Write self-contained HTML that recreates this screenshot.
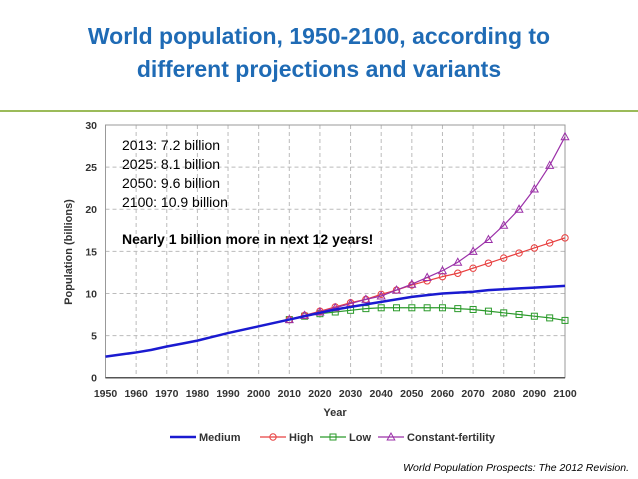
<!DOCTYPE html>
<html><head><meta charset="utf-8"><style>
body{margin:0;width:638px;height:479px;background:#fff;overflow:hidden;font-family:"Liberation Sans",sans-serif}
.t{position:absolute;left:0;width:638px;text-align:center;color:#1f6bb5;font-weight:bold;font-size:23px;line-height:33px}
</style></head><body>
<div class="t" style="top:20px">World population, 1950-2100, according to<br>different projections and variants</div>
<div style="position:absolute;left:0;top:110px;width:638px;height:2px;background:#9bbb59"></div>
<svg id="c" width="638" height="479" style="position:absolute;left:0;top:0"></svg>
<script>
const years=[1950,1955,1960,1965,1970,1975,1980,1985,1990,1995,2000,2005,2010,2015,2020,2025,2030,2035,2040,2045,2050,2055,2060,2065,2070,2075,2080,2085,2090,2095,2100];
const medium=[2.5,2.75,3.0,3.3,3.7,4.05,4.4,4.85,5.3,5.7,6.1,6.5,6.9,7.3,7.7,8.1,8.4,8.7,9.0,9.3,9.6,9.8,10.0,10.1,10.2,10.4,10.5,10.6,10.7,10.8,10.9];
const projYears=[2010,2015,2020,2025,2030,2035,2040,2045,2050,2055,2060,2065,2070,2075,2080,2085,2090,2095,2100];
const high=[6.9,7.4,7.9,8.4,8.9,9.3,9.9,10.4,11.0,11.5,12.0,12.4,13.0,13.6,14.2,14.8,15.4,16.0,16.6];
const low=[6.9,7.3,7.6,7.8,8.0,8.2,8.3,8.3,8.3,8.3,8.3,8.2,8.1,7.9,7.7,7.5,7.3,7.1,6.8];
const constant=[6.9,7.4,7.8,8.3,8.8,9.3,9.7,10.4,11.1,11.9,12.7,13.7,15.0,16.4,18.1,20.0,22.4,25.2,28.6];
const xTicks=[1950,1960,1970,1980,1990,2000,2010,2020,2030,2040,2050,2060,2070,2080,2090,2100];
const yTicks=[0,5,10,15,20,25,30];
const svg=document.getElementById('c'),NS='http://www.w3.org/2000/svg';
const X=v=>105.5+(v-1950)*(565-105.5)/150, Y=v=>377.7-v*(377.7-125)/30;
function el(t,a,txt){const e=document.createElementNS(NS,t);for(const k in a)e.setAttribute(k,a[k]);if(txt!=null)e.textContent=txt;svg.appendChild(e);return e;}
for(const t of xTicks){if(t>1950){const g=el('line',{x1:X(t),x2:X(t),y1:125,y2:377.7,stroke:'#bbb','stroke-dasharray':'4,3'});}
const l=el('text',{x:X(t),y:397,'text-anchor':'middle','font-size':'10.5','font-weight':'bold',fill:'#333'},t);}
for(const t of yTicks){if(t>0){const g=el('line',{x1:105.5,x2:565,y1:Y(t),y2:Y(t),stroke:'#bbb','stroke-dasharray':'4,3'});}
const l=el('text',{x:97,y:Y(t)+4,'text-anchor':'end','font-size':'10.5','font-weight':'bold',fill:'#333'},t);}
const fr=el('rect',{x:105.5,y:125,width:459.5,height:252.7,fill:'none',stroke:'#999'});
const ax=el('line',{x1:105.5,x2:565,y1:377.7,y2:377.7,stroke:'#555','stroke-width':1.5});
const xt=el('text',{x:335,y:416,'text-anchor':'middle','font-size':'11','font-weight':'bold',fill:'#333'},'Year');
const yt=el('text',{x:0,y:0,transform:'translate(72,252) rotate(-90)','text-anchor':'middle','font-size':'11','font-weight':'bold',fill:'#333'},'Population (billions)');
function pts(xs,ys){return xs.map((x,i)=>X(x)+','+Y(ys[i])).join(' ');}
function marker(kind,x,y,c){let m;if(kind==='c')m=el('circle',{cx:x,cy:y,r:3.2,fill:'none',stroke:c});else if(kind==='s')m=el('rect',{x:x-3,y:y-3,width:6,height:6,fill:'none',stroke:c});else m=el('polygon',{points:`${x},${y-4} ${x-3.8},${y+3} ${x+3.8},${y+3}`,fill:'none',stroke:c});return m;}
const series=[[low,'#2a9a2a','s','low'],[high,'#e84040','c','high'],[constant,'#9b30a8','t','constant-fertility']];
for(const [d,c,k,n] of series){const p=el('polyline',{points:pts(projYears,d),fill:'none',stroke:c,'stroke-width':1.2});
projYears.forEach((yr,i)=>{const m=marker(k,X(yr),Y(d[i]),c);});}
const ml=el('polyline',{points:pts(years,medium),fill:'none',stroke:'#1a1ad0','stroke-width':2.5});
const notes=['2013: 7.2 billion','2025: 8.1 billion','2050: 9.6 billion','2100: 10.9 billion'];
notes.forEach((s,i)=>{const t=el('text',{x:122,y:150+i*19,'font-size':'14',fill:'#000'},s);});
const b=el('text',{x:122,y:244,'font-size':'14','font-weight':'bold',fill:'#000'},'Nearly 1 billion more in next 12 years!');
const leg=[['Medium','#1a1ad0',null,170],['High','#e84040','c',260],['Low','#2a9a2a','s',320],['Constant-fertility','#9b30a8','t',378]];
for(const [n,c,k,x] of leg){const l=el('line',{x1:x,x2:x+26,y1:437,y2:437,stroke:c,'stroke-width':k?1.2:2.5});
if(k){const m=marker(k,x+13,437,c);}
const t=el('text',{x:x+29,y:441,'font-size':'11','font-weight':'bold',fill:'#333'},n);}
const cap=el('text',{x:629,y:471,'text-anchor':'end','font-size':'10.5','font-style':'italic',fill:'#000'},'World Population Prospects: The 2012 Revision.');
</script>
</body></html>
